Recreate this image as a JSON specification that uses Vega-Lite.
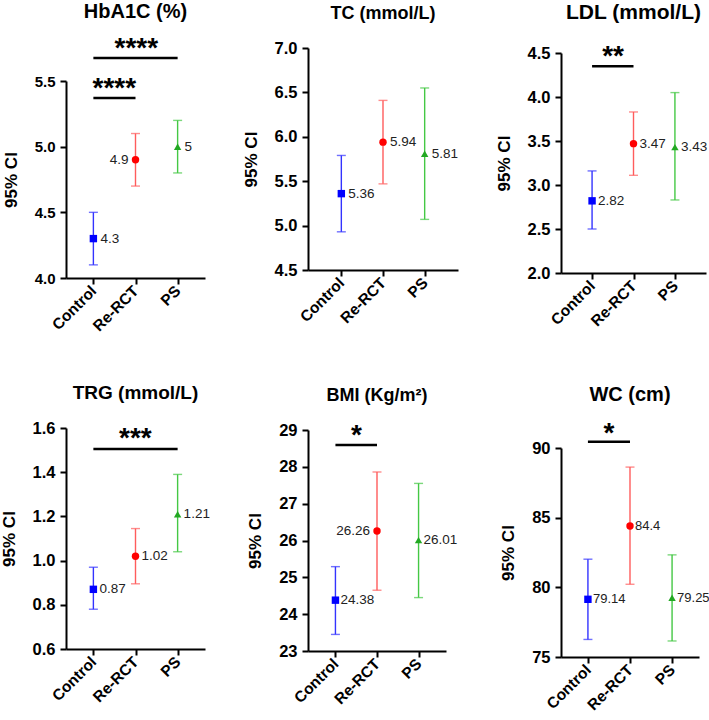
{
"$schema": "https://vega.github.io/schema/vega-lite/v6.json",
"padding": {"left": 0, "top": 2, "right": 0, "bottom": 0},
"datasets": {
"stats": [
{"panel": "HbA1C", "group": "Control", "mean": 4.3, "lo": 4.1, "hi": 4.5},
{"panel": "HbA1C", "group": "Re-RCT", "mean": 4.9, "lo": 4.7, "hi": 5.1},
{"panel": "HbA1C", "group": "PS", "mean": 5, "lo": 4.8, "hi": 5.2},
{"panel": "TC", "group": "Control", "mean": 5.36, "lo": 4.93, "hi": 5.79},
{"panel": "TC", "group": "Re-RCT", "mean": 5.94, "lo": 5.47, "hi": 6.41},
{"panel": "TC", "group": "PS", "mean": 5.81, "lo": 5.07, "hi": 6.55},
{"panel": "LDL", "group": "Control", "mean": 2.82, "lo": 2.5, "hi": 3.16},
{"panel": "LDL", "group": "Re-RCT", "mean": 3.47, "lo": 3.11, "hi": 3.83},
{"panel": "LDL", "group": "PS", "mean": 3.43, "lo": 2.83, "hi": 4.05},
{"panel": "TRG", "group": "Control", "mean": 0.87, "lo": 0.78, "hi": 0.97},
{"panel": "TRG", "group": "Re-RCT", "mean": 1.02, "lo": 0.895, "hi": 1.145},
{"panel": "TRG", "group": "PS", "mean": 1.21, "lo": 1.04, "hi": 1.39},
{"panel": "BMI", "group": "Control", "mean": 24.38, "lo": 23.45, "hi": 25.29},
{"panel": "BMI", "group": "Re-RCT", "mean": 26.26, "lo": 24.65, "hi": 27.86},
{"panel": "BMI", "group": "PS", "mean": 26.01, "lo": 24.45, "hi": 27.55},
{"panel": "WC", "group": "Control", "mean": 79.14, "lo": 76.26, "hi": 82.02},
{"panel": "WC", "group": "Re-RCT", "mean": 84.4, "lo": 80.22, "hi": 88.63},
{"panel": "WC", "group": "PS", "mean": 79.25, "lo": 76.15, "hi": 82.33}
],
"sig": [
{"panel": "HbA1C", "from": "Control", "to": "Re-RCT", "y": 5.37, "stars": "****"},
{"panel": "HbA1C", "from": "Control", "to": "PS", "y": 5.675, "stars": "****"},
{"panel": "LDL", "from": "Control", "to": "Re-RCT", "y": 4.35, "stars": "**"},
{"panel": "TRG", "from": "Control", "to": "PS", "y": 1.505, "stars": "***"},
{"panel": "BMI", "from": "Control", "to": "Re-RCT", "y": 28.59, "stars": "*"},
{"panel": "WC", "from": "Control", "to": "Re-RCT", "y": 90.45, "stars": "*"}
]
},
"columns": 3,
"spacing": {"row": 150, "column": 103},
"bounds": "flush",
"align": "each",
"concat": [
{
"width": 139, "height": 230,
"title": {"text": "HbA1C (%)", "offset": 13},
"layer": [
{
"data": {"name": "stats"},
"transform": [{"filter": "datum.panel === 'HbA1C'"}],
"encoding": {"x": {"field": "group", "type": "nominal", "title": null, "sort": ["Control", "Re-RCT", "PS"], "scale": {"type": "point", "domain": ["Control", "Re-RCT", "PS"], "padding": 0.65}}},
"layer": [
{"mark": {"type": "rule", "strokeWidth": 1.4}, "encoding": {"y": {"field": "lo", "type": "quantitative", "title": "95% CI", "scale": {"domain": [4, 5.5], "range": [230, 33], "nice": false, "zero": false}, "axis": {"values": [4, 4.5, 5, 5.5], "format": ".1f", "labelFontSize": 15}}, "y2": {"field": "hi"}, "color": {"field": "group", "type": "nominal", "scale": {"domain": ["Control", "Re-RCT", "PS"], "range": ["#3333FF", "#FF5C5C", "#44C844"]}, "legend": null}}},
{"mark": {"type": "tick", "thickness": 1.4, "size": 9}, "encoding": {"y": {"field": "lo", "type": "quantitative", "title": "95% CI"}, "color": {"field": "group", "type": "nominal", "scale": {"domain": ["Control", "Re-RCT", "PS"], "range": ["#3333FF", "#FF5C5C", "#44C844"]}, "legend": null}}},
{"mark": {"type": "tick", "thickness": 1.4, "size": 9}, "encoding": {"y": {"field": "hi", "type": "quantitative", "title": "95% CI"}, "color": {"field": "group", "type": "nominal", "scale": {"domain": ["Control", "Re-RCT", "PS"], "range": ["#3333FF", "#FF5C5C", "#44C844"]}, "legend": null}}},
{"mark": {"type": "point", "filled": true, "size": 55, "opacity": 1}, "encoding": {"y": {"field": "mean", "type": "quantitative", "title": "95% CI"}, "color": {"field": "group", "type": "nominal", "scale": {"domain": ["Control", "Re-RCT", "PS"], "range": ["#0000FF", "#FF0000", "#22A822"]}, "legend": null}, "shape": {"field": "group", "type": "nominal", "scale": {"domain": ["Control", "Re-RCT", "PS"], "range": ["square", "circle", "triangle-up"]}, "legend": null}}},
{"transform": [{"filter": "datum.group !== 'Re-RCT'"}], "mark": {"type": "text", "align": "left", "baseline": "middle", "dx": 7, "fontSize": 13.5, "color": "#222"}, "encoding": {"y": {"field": "mean", "type": "quantitative", "title": "95% CI"}, "text": {"field": "mean", "type": "nominal"}}},
{"transform": [{"filter": "datum.group === 'Re-RCT'"}], "mark": {"type": "text", "align": "right", "baseline": "middle", "dx": -7, "fontSize": 13.5, "color": "#222"}, "encoding": {"y": {"field": "mean", "type": "quantitative", "title": "95% CI"}, "text": {"field": "mean", "type": "nominal"}}}
],
"resolve": {"scale": {"color": "independent"}}
},
{
"data": {"name": "sig"},
"transform": [{"filter": "datum.panel === 'HbA1C'"}],
"layer": [
{"mark": {"type": "rule", "strokeWidth": 2.5, "color": "black"}, "encoding": {"x": {"field": "from", "type": "nominal", "title": null}, "x2": {"field": "to"}, "y": {"field": "y", "type": "quantitative", "title": "95% CI"}}},
{"transform": [{"filter": "datum.to === 'Re-RCT'"}], "mark": {"type": "text", "fontSize": 28, "fontWeight": "bold", "dx": 21, "dy": -1, "baseline": "alphabetic", "color": "black"}, "encoding": {"x": {"field": "from", "type": "nominal", "title": null}, "y": {"field": "y", "type": "quantitative", "title": "95% CI"}, "text": {"field": "stars"}}},
{"transform": [{"filter": "datum.to === 'PS'"}], "mark": {"type": "text", "fontSize": 28, "fontWeight": "bold", "dx": 43, "dy": -1, "baseline": "alphabetic", "color": "black"}, "encoding": {"x": {"field": "from", "type": "nominal", "title": null}, "y": {"field": "y", "type": "quantitative", "title": "95% CI"}, "text": {"field": "stars"}}}
]
}
]
},
{
"width": 150, "height": 222,
"title": {"text": "TC (mmol/L)", "offset": 17, "fontSize": 18},
"layer": [
{
"data": {"name": "stats"},
"transform": [{"filter": "datum.panel === 'TC'"}],
"encoding": {"x": {"field": "group", "type": "nominal", "title": null, "sort": ["Control", "Re-RCT", "PS"], "scale": {"type": "point", "domain": ["Control", "Re-RCT", "PS"], "padding": 0.8}}},
"layer": [
{"mark": {"type": "rule", "strokeWidth": 1.4}, "encoding": {"y": {"field": "lo", "type": "quantitative", "title": "95% CI", "scale": {"domain": [4.5, 7], "nice": false, "zero": false}, "axis": {"values": [4.5, 5, 5.5, 6, 6.5, 7], "format": ".1f"}}, "y2": {"field": "hi"}, "color": {"field": "group", "type": "nominal", "scale": {"domain": ["Control", "Re-RCT", "PS"], "range": ["#3333FF", "#FF5C5C", "#44C844"]}, "legend": null}}},
{"mark": {"type": "tick", "thickness": 1.4, "size": 9}, "encoding": {"y": {"field": "lo", "type": "quantitative", "title": "95% CI"}, "color": {"field": "group", "type": "nominal", "scale": {"domain": ["Control", "Re-RCT", "PS"], "range": ["#3333FF", "#FF5C5C", "#44C844"]}, "legend": null}}},
{"mark": {"type": "tick", "thickness": 1.4, "size": 9}, "encoding": {"y": {"field": "hi", "type": "quantitative", "title": "95% CI"}, "color": {"field": "group", "type": "nominal", "scale": {"domain": ["Control", "Re-RCT", "PS"], "range": ["#3333FF", "#FF5C5C", "#44C844"]}, "legend": null}}},
{"mark": {"type": "point", "filled": true, "size": 55, "opacity": 1}, "encoding": {"y": {"field": "mean", "type": "quantitative", "title": "95% CI"}, "color": {"field": "group", "type": "nominal", "scale": {"domain": ["Control", "Re-RCT", "PS"], "range": ["#0000FF", "#FF0000", "#22A822"]}, "legend": null}, "shape": {"field": "group", "type": "nominal", "scale": {"domain": ["Control", "Re-RCT", "PS"], "range": ["square", "circle", "triangle-up"]}, "legend": null}}},
{"mark": {"type": "text", "align": "left", "baseline": "middle", "dx": 7, "fontSize": 13.5, "color": "#222"}, "encoding": {"y": {"field": "mean", "type": "quantitative", "title": "95% CI"}, "text": {"field": "mean", "type": "nominal"}}}
],
"resolve": {"scale": {"color": "independent"}}
}
]
},
{
"width": 145, "height": 225,
"title": {"text": "LDL (mmol/L)", "offset": 20, "fontSize": 21},
"layer": [
{
"data": {"name": "stats"},
"transform": [{"filter": "datum.panel === 'LDL'"}],
"encoding": {"x": {"field": "group", "type": "nominal", "title": null, "sort": ["Control", "Re-RCT", "PS"], "scale": {"type": "point", "domain": ["Control", "Re-RCT", "PS"], "padding": 0.75}}},
"layer": [
{"mark": {"type": "rule", "strokeWidth": 1.4}, "encoding": {"y": {"field": "lo", "type": "quantitative", "title": "95% CI", "scale": {"domain": [2, 4.5], "range": [225, 5], "nice": false, "zero": false}, "axis": {"values": [2, 2.5, 3, 3.5, 4, 4.5], "format": ".1f"}}, "y2": {"field": "hi"}, "color": {"field": "group", "type": "nominal", "scale": {"domain": ["Control", "Re-RCT", "PS"], "range": ["#3333FF", "#FF5C5C", "#44C844"]}, "legend": null}}},
{"mark": {"type": "tick", "thickness": 1.4, "size": 9}, "encoding": {"y": {"field": "lo", "type": "quantitative", "title": "95% CI"}, "color": {"field": "group", "type": "nominal", "scale": {"domain": ["Control", "Re-RCT", "PS"], "range": ["#3333FF", "#FF5C5C", "#44C844"]}, "legend": null}}},
{"mark": {"type": "tick", "thickness": 1.4, "size": 9}, "encoding": {"y": {"field": "hi", "type": "quantitative", "title": "95% CI"}, "color": {"field": "group", "type": "nominal", "scale": {"domain": ["Control", "Re-RCT", "PS"], "range": ["#3333FF", "#FF5C5C", "#44C844"]}, "legend": null}}},
{"mark": {"type": "point", "filled": true, "size": 55, "opacity": 1}, "encoding": {"y": {"field": "mean", "type": "quantitative", "title": "95% CI"}, "color": {"field": "group", "type": "nominal", "scale": {"domain": ["Control", "Re-RCT", "PS"], "range": ["#0000FF", "#FF0000", "#22A822"]}, "legend": null}, "shape": {"field": "group", "type": "nominal", "scale": {"domain": ["Control", "Re-RCT", "PS"], "range": ["square", "circle", "triangle-up"]}, "legend": null}}},
{"mark": {"type": "text", "align": "left", "baseline": "middle", "dx": 6, "fontSize": 13.5, "color": "#222"}, "encoding": {"y": {"field": "mean", "type": "quantitative", "title": "95% CI"}, "text": {"field": "mean", "type": "nominal"}}}
],
"resolve": {"scale": {"color": "independent"}}
},
{
"data": {"name": "sig"},
"transform": [{"filter": "datum.panel === 'LDL'"}],
"layer": [
{"mark": {"type": "rule", "strokeWidth": 2.5, "color": "black"}, "encoding": {"x": {"field": "from", "type": "nominal", "title": null}, "x2": {"field": "to"}, "y": {"field": "y", "type": "quantitative", "title": "95% CI"}}},
{"mark": {"type": "text", "fontSize": 28, "fontWeight": "bold", "dx": 21, "dy": -1, "baseline": "alphabetic", "color": "black"}, "encoding": {"x": {"field": "from", "type": "nominal", "title": null}, "y": {"field": "y", "type": "quantitative", "title": "95% CI"}, "text": {"field": "stars"}}}
]
}
]
},
{
"width": 139, "height": 221,
"title": {"text": "TRG (mmol/L)", "offset": 17, "fontSize": 19},
"layer": [
{
"data": {"name": "stats"},
"transform": [{"filter": "datum.panel === 'TRG'"}],
"encoding": {"x": {"field": "group", "type": "nominal", "title": null, "sort": ["Control", "Re-RCT", "PS"], "scale": {"type": "point", "domain": ["Control", "Re-RCT", "PS"], "padding": 0.65}}},
"layer": [
{"mark": {"type": "rule", "strokeWidth": 1.4}, "encoding": {"y": {"field": "lo", "type": "quantitative", "title": "95% CI", "scale": {"domain": [0.6, 1.6], "nice": false, "zero": false}, "axis": {"values": [0.6, 0.8, 1.0, 1.2, 1.4, 1.6], "format": ".1f"}}, "y2": {"field": "hi"}, "color": {"field": "group", "type": "nominal", "scale": {"domain": ["Control", "Re-RCT", "PS"], "range": ["#3333FF", "#FF5C5C", "#44C844"]}, "legend": null}}},
{"mark": {"type": "tick", "thickness": 1.4, "size": 9}, "encoding": {"y": {"field": "lo", "type": "quantitative", "title": "95% CI"}, "color": {"field": "group", "type": "nominal", "scale": {"domain": ["Control", "Re-RCT", "PS"], "range": ["#3333FF", "#FF5C5C", "#44C844"]}, "legend": null}}},
{"mark": {"type": "tick", "thickness": 1.4, "size": 9}, "encoding": {"y": {"field": "hi", "type": "quantitative", "title": "95% CI"}, "color": {"field": "group", "type": "nominal", "scale": {"domain": ["Control", "Re-RCT", "PS"], "range": ["#3333FF", "#FF5C5C", "#44C844"]}, "legend": null}}},
{"mark": {"type": "point", "filled": true, "size": 55, "opacity": 1}, "encoding": {"y": {"field": "mean", "type": "quantitative", "title": "95% CI"}, "color": {"field": "group", "type": "nominal", "scale": {"domain": ["Control", "Re-RCT", "PS"], "range": ["#0000FF", "#FF0000", "#22A822"]}, "legend": null}, "shape": {"field": "group", "type": "nominal", "scale": {"domain": ["Control", "Re-RCT", "PS"], "range": ["square", "circle", "triangle-up"]}, "legend": null}}},
{"mark": {"type": "text", "align": "left", "baseline": "middle", "dx": 6, "fontSize": 13.5, "color": "#222"}, "encoding": {"y": {"field": "mean", "type": "quantitative", "title": "95% CI"}, "text": {"field": "mean", "type": "nominal"}}}
],
"resolve": {"scale": {"color": "independent"}}
},
{
"data": {"name": "sig"},
"transform": [{"filter": "datum.panel === 'TRG'"}],
"layer": [
{"mark": {"type": "rule", "strokeWidth": 2.5, "color": "black"}, "encoding": {"x": {"field": "from", "type": "nominal", "title": null}, "x2": {"field": "to"}, "y": {"field": "y", "type": "quantitative", "title": "95% CI"}}},
{"mark": {"type": "text", "fontSize": 28, "fontWeight": "bold", "dx": 42, "dy": -2, "baseline": "alphabetic", "color": "black"}, "encoding": {"x": {"field": "from", "type": "nominal", "title": null}, "y": {"field": "y", "type": "quantitative", "title": "95% CI"}, "text": {"field": "stars"}}}
]
}
]
},
{
"width": 138, "height": 223,
"title": {"text": "BMI (Kg/m²)", "offset": 17, "fontSize": 18},
"layer": [
{
"data": {"name": "stats"},
"transform": [{"filter": "datum.panel === 'BMI'"}],
"encoding": {"x": {"field": "group", "type": "nominal", "title": null, "sort": ["Control", "Re-RCT", "PS"], "scale": {"type": "point", "domain": ["Control", "Re-RCT", "PS"], "padding": 0.66}}},
"layer": [
{"mark": {"type": "rule", "strokeWidth": 1.4}, "encoding": {"y": {"field": "lo", "type": "quantitative", "title": "95% CI", "scale": {"domain": [23, 29], "range": [223, 2], "nice": false, "zero": false}, "axis": {"values": [23, 24, 25, 26, 27, 28, 29], "format": "d", "labelOverlap": false, "tickCount": 7}}, "y2": {"field": "hi"}, "color": {"field": "group", "type": "nominal", "scale": {"domain": ["Control", "Re-RCT", "PS"], "range": ["#3333FF", "#FF5C5C", "#44C844"]}, "legend": null}}},
{"mark": {"type": "tick", "thickness": 1.4, "size": 9}, "encoding": {"y": {"field": "lo", "type": "quantitative", "title": "95% CI", "axis": {"values": [23, 24, 25, 26, 27, 28, 29], "format": "d", "labelOverlap": false, "tickCount": 7}}, "color": {"field": "group", "type": "nominal", "scale": {"domain": ["Control", "Re-RCT", "PS"], "range": ["#3333FF", "#FF5C5C", "#44C844"]}, "legend": null}}},
{"mark": {"type": "tick", "thickness": 1.4, "size": 9}, "encoding": {"y": {"field": "hi", "type": "quantitative", "title": "95% CI", "axis": {"values": [23, 24, 25, 26, 27, 28, 29], "format": "d", "labelOverlap": false, "tickCount": 7}}, "color": {"field": "group", "type": "nominal", "scale": {"domain": ["Control", "Re-RCT", "PS"], "range": ["#3333FF", "#FF5C5C", "#44C844"]}, "legend": null}}},
{"mark": {"type": "point", "filled": true, "size": 55, "opacity": 1}, "encoding": {"y": {"field": "mean", "type": "quantitative", "title": "95% CI", "axis": {"values": [23, 24, 25, 26, 27, 28, 29], "format": "d", "labelOverlap": false, "tickCount": 7}}, "color": {"field": "group", "type": "nominal", "scale": {"domain": ["Control", "Re-RCT", "PS"], "range": ["#0000FF", "#FF0000", "#22A822"]}, "legend": null}, "shape": {"field": "group", "type": "nominal", "scale": {"domain": ["Control", "Re-RCT", "PS"], "range": ["square", "circle", "triangle-up"]}, "legend": null}}},
{"transform": [{"filter": "datum.group !== 'Re-RCT'"}], "mark": {"type": "text", "align": "left", "baseline": "middle", "dx": 5, "fontSize": 13.5, "color": "#222"}, "encoding": {"y": {"field": "mean", "type": "quantitative", "title": "95% CI", "axis": {"values": [23, 24, 25, 26, 27, 28, 29], "format": "d", "labelOverlap": false, "tickCount": 7}}, "text": {"field": "mean", "type": "nominal"}}},
{"transform": [{"filter": "datum.group === 'Re-RCT'"}], "mark": {"type": "text", "align": "right", "baseline": "middle", "dx": -7, "fontSize": 13.5, "color": "#222"}, "encoding": {"y": {"field": "mean", "type": "quantitative", "title": "95% CI", "axis": {"values": [23, 24, 25, 26, 27, 28, 29], "format": "d", "labelOverlap": false, "tickCount": 7}}, "text": {"field": "mean", "type": "nominal"}}}
],
"resolve": {"scale": {"color": "independent"}}
},
{
"data": {"name": "sig"},
"transform": [{"filter": "datum.panel === 'BMI'"}],
"layer": [
{"mark": {"type": "rule", "strokeWidth": 2.5, "color": "black"}, "encoding": {"x": {"field": "from", "type": "nominal", "title": null}, "x2": {"field": "to"}, "y": {"field": "y", "type": "quantitative", "title": "95% CI", "axis": {"values": [23, 24, 25, 26, 27, 28, 29], "format": "d", "labelOverlap": false, "tickCount": 7}}}},
{"mark": {"type": "text", "fontSize": 28, "fontWeight": "bold", "dx": 21, "dy": -1, "baseline": "alphabetic", "color": "black"}, "encoding": {"x": {"field": "from", "type": "nominal", "title": null}, "y": {"field": "y", "type": "quantitative", "title": "95% CI", "axis": {"values": [23, 24, 25, 26, 27, 28, 29], "format": "d", "labelOverlap": false, "tickCount": 7}}, "text": {"field": "stars"}}}
]
}
]
},
{
"width": 138, "height": 229,
"title": {"text": "WC (cm)", "offset": 15},
"layer": [
{
"data": {"name": "stats"},
"transform": [{"filter": "datum.panel === 'WC'"}],
"encoding": {"x": {"field": "group", "type": "nominal", "title": null, "sort": ["Control", "Re-RCT", "PS"], "scale": {"type": "point", "domain": ["Control", "Re-RCT", "PS"], "padding": 0.64}}},
"layer": [
{"mark": {"type": "rule", "strokeWidth": 1.4}, "encoding": {"y": {"field": "lo", "type": "quantitative", "title": "95% CI", "scale": {"domain": [75, 90], "range": [229, 20], "nice": false, "zero": false}, "axis": {"values": [75, 80, 85, 90], "format": "d"}}, "y2": {"field": "hi"}, "color": {"field": "group", "type": "nominal", "scale": {"domain": ["Control", "Re-RCT", "PS"], "range": ["#3333FF", "#FF5C5C", "#44C844"]}, "legend": null}}},
{"mark": {"type": "tick", "thickness": 1.4, "size": 9}, "encoding": {"y": {"field": "lo", "type": "quantitative", "title": "95% CI"}, "color": {"field": "group", "type": "nominal", "scale": {"domain": ["Control", "Re-RCT", "PS"], "range": ["#3333FF", "#FF5C5C", "#44C844"]}, "legend": null}}},
{"mark": {"type": "tick", "thickness": 1.4, "size": 9}, "encoding": {"y": {"field": "hi", "type": "quantitative", "title": "95% CI"}, "color": {"field": "group", "type": "nominal", "scale": {"domain": ["Control", "Re-RCT", "PS"], "range": ["#3333FF", "#FF5C5C", "#44C844"]}, "legend": null}}},
{"mark": {"type": "point", "filled": true, "size": 55, "opacity": 1}, "encoding": {"y": {"field": "mean", "type": "quantitative", "title": "95% CI"}, "color": {"field": "group", "type": "nominal", "scale": {"domain": ["Control", "Re-RCT", "PS"], "range": ["#0000FF", "#FF0000", "#22A822"]}, "legend": null}, "shape": {"field": "group", "type": "nominal", "scale": {"domain": ["Control", "Re-RCT", "PS"], "range": ["square", "circle", "triangle-up"]}, "legend": null}}},
{"mark": {"type": "text", "align": "left", "baseline": "middle", "dx": 5, "fontSize": 13, "color": "#222"}, "encoding": {"y": {"field": "mean", "type": "quantitative", "title": "95% CI"}, "text": {"field": "mean", "type": "nominal"}}}
],
"resolve": {"scale": {"color": "independent"}}
},
{
"data": {"name": "sig"},
"transform": [{"filter": "datum.panel === 'WC'"}],
"layer": [
{"mark": {"type": "rule", "strokeWidth": 2.5, "color": "black"}, "encoding": {"x": {"field": "from", "type": "nominal", "title": null}, "x2": {"field": "to"}, "y": {"field": "y", "type": "quantitative", "title": "95% CI"}}},
{"mark": {"type": "text", "fontSize": 28, "fontWeight": "bold", "dx": 21, "dy": 0, "baseline": "alphabetic", "color": "black"}, "encoding": {"x": {"field": "from", "type": "nominal", "title": null}, "y": {"field": "y", "type": "quantitative", "title": "95% CI"}, "text": {"field": "stars"}}}
]
}
]
}
],
"config": {
"view": {"stroke": null},
"font": "Liberation Sans",
"axis": {"domainColor": "black", "domainWidth": 2, "tickColor": "black", "tickWidth": 2, "tickSize": 6, "labelColor": "black", "labelFont": "Liberation Sans", "labelFontWeight": "bold", "labelFontSize": 16.5, "titleFont": "Liberation Sans", "titleFontWeight": "bold", "titleFontSize": 17, "titleColor": "black", "grid": false, "labelPadding": 5},
"axisX": {"labelAngle": -45, "labelAlign": "right", "labelBaseline": "middle", "labelPadding": 4, "labelFontSize": 15.5},
"axisY": {"titlePadding": 14, "labelOverlap": false},
"title": {"font": "Liberation Sans", "fontWeight": "bold", "fontSize": 20, "color": "black", "frame": "group", "anchor": "middle"}
}
}
